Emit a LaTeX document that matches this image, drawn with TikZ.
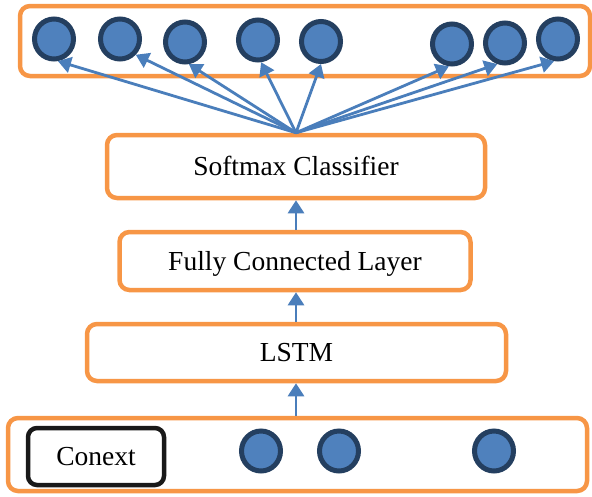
\documentclass[tikz,border=0pt]{standalone}
\usepackage{fontspec}
\setmainfont{Liberation Serif}
\usetikzlibrary{shapes.geometric,arrows.meta}
\definecolor{boxorange}{HTML}{F79646}
\definecolor{dotfill}{HTML}{4F81BD}
\definecolor{dotline}{HTML}{243F60}
\definecolor{arrblue}{HTML}{4A7EBB}
\tikzset{
  layerbox/.style={draw=boxorange, line width=4.5pt, rounded corners=10pt, fill=white, inner sep=0pt,
    font=\fontsize{27.5}{30}\selectfont, text height=18.2pt, text depth=0pt},
  ctxbox/.style={draw=black!90, line width=4.5pt, rounded corners=9pt, fill=white, inner sep=0pt,
    font=\fontsize{27.5}{30}\selectfont, text height=18.2pt, text depth=0pt},
  dot/.style={ellipse, draw=dotline, fill=dotfill, line width=5pt, minimum width=39pt, minimum height=40pt, inner sep=0pt},
  arr/.style={draw=arrblue, line width=2.8pt, -{Triangle[length=13pt,width=16pt]}}
}
\begin{document}
\begin{tikzpicture}[x=1pt,y=-1pt]
\useasboundingbox (0,0) rectangle (592,496);
% top output layer
\node[layerbox, minimum width=570pt, minimum height=70pt] (top) at (305,41) {};
\node[dot] (c1) at (54,39) {};
\node[dot] (c2) at (120,39) {};
\node[dot] (c3) at (185,42) {};
\node[dot] (c4) at (258,40) {};
\node[dot] (c5) at (321,41.5) {};
\node[dot] (c6) at (452,44) {};
\node[dot] (c7) at (505,43) {};
\node[dot] (c8) at (558,39) {};
% layers
\node[layerbox, minimum width=378pt, minimum height=63pt] (soft) at (296,166.5) {Softmax Classifier};
\node[layerbox, minimum width=351pt, minimum height=58pt] (fc) at (295,261) {Fully Connected Layer};
\node[layerbox, minimum width=419pt, minimum height=57pt] (lstm) at (296.5,352.5) {LSTM};
% input layer
\node[layerbox, minimum width=579pt, minimum height=73pt] (inp) at (297.5,454.5) {};
\node[ctxbox, minimum width=136pt, minimum height=57pt] (ctx) at (96,456.5) {Conext};
\node[dot] (d1) at (261,451) {};
\node[dot] (d2) at (339,451) {};
\node[dot] (d3) at (494,451) {};
% connectors
\coordinate (apex) at (soft.north);
\draw[arr] (apex) -- (c1.-80);
\draw[arr] (apex) -- (c2.-45);
\draw[arr] (apex) -- (c3.-80);
\draw[arr] (apex) -- (c4.-82);
\draw[arr] (apex) -- (c5.-90);
\draw[arr] (apex) -- (c6.-98);
\draw[arr] (apex) -- (c7.-110);
\draw[arr] (apex) -- (c8.-100);
\draw[arr] (fc.north -| soft.south) -- (soft.south);
\draw[arr] (lstm.north -| soft.south) -- (fc.south -| soft.south);
\draw[arr] (inp.north -| soft.south) -- (lstm.south -| soft.south);
\end{tikzpicture}
\end{document}
